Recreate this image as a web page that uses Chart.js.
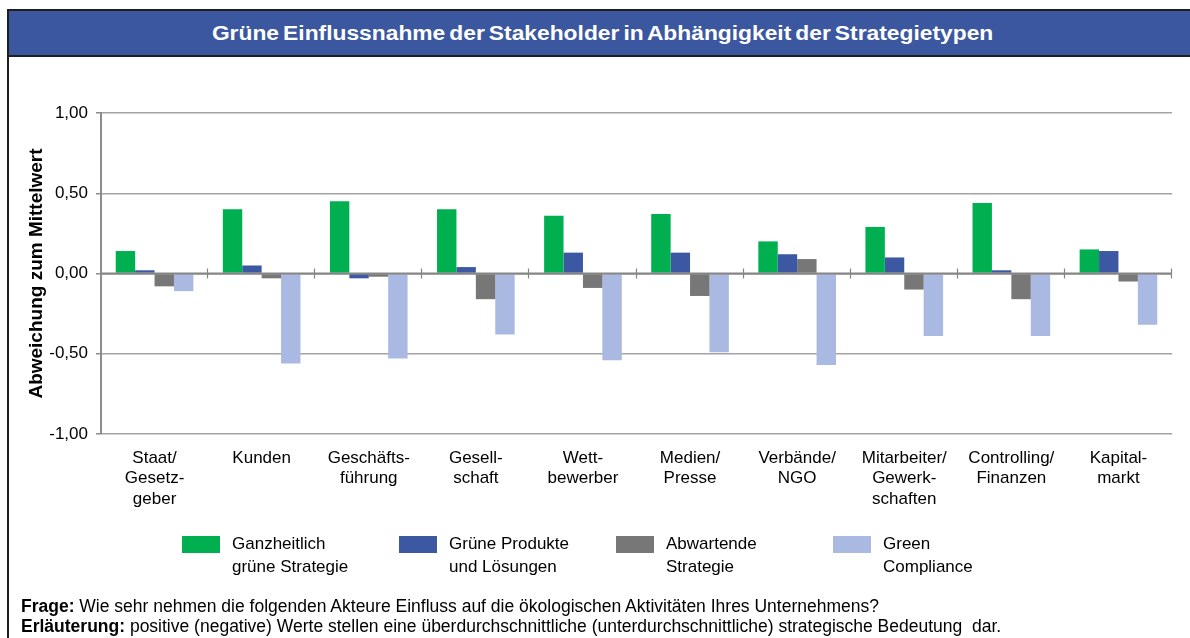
<!DOCTYPE html>
<html>
<head>
<meta charset="utf-8">
<script src="https://cdn.jsdelivr.net/npm/chart.js@4.4.1/dist/chart.umd.min.js"></script>
<style>
  html, body { margin:0; padding:0; background:#fff; width:1190px; height:638px; overflow:hidden;
    font-family:"Liberation Sans", Arial, sans-serif; }
  #frame { position:absolute; left:7px; top:9px; width:1200px; height:700px; border:2px solid #1f1f1f; box-sizing:border-box; }
  #titlebar { position:absolute; left:7px; top:9px; width:1200px; height:48px; background:#3B57A0;
    border:2px solid #1f1f1f; box-sizing:border-box; }
  #title { position:absolute; left:0; top:20px; width:1205px; text-align:center; color:#fff;
    font-weight:bold; font-size:20px; line-height:26px; word-spacing:-2px; transform:scaleX(1.14); transform-origin:602px 0; }
  #chart { position:absolute; left:0; top:0; }
  .leg { position:absolute; top:532px; }
  .sw { position:absolute; left:0; top:4px; width:38px; height:17px; }
  .lt { position:absolute; left:50px; top:0; white-space:nowrap; font-size:17px; line-height:23px; color:#000; }
  #footer { position:absolute; left:21px; top:596px; font-size:17.5px; line-height:20px; color:#000; white-space:nowrap; }
</style>
</head>
<body>
<div id="frame"></div>
<div id="titlebar"></div>
<div id="title">Grüne Einflussnahme der Stakeholder in Abhängigkeit der Strategietypen</div>
<canvas id="chart" width="1190" height="638"></canvas>
<div id="legend"></div>
<div id="footer">
  <div><b>Frage:</b> Wie sehr nehmen die folgenden Akteure Einfluss auf die ökologischen Aktivitäten Ihres Unternehmens?</div>
  <div><b>Erläuterung:</b> positive (negative) Werte stellen eine überdurchschnittliche (unterdurchschnittliche) strategische Bedeutung &nbsp;dar.</div>
</div>
<script>
// ---- data ----
const categories = [
  ["Staat/", "Gesetz-", "geber"],
  ["Kunden"],
  ["Geschäfts-", "führung"],
  ["Gesell-", "schaft"],
  ["Wett-", "bewerber"],
  ["Medien/", "Presse"],
  ["Verbände/", "NGO"],
  ["Mitarbeiter/", "Gewerk-", "schaften"],
  ["Controlling/", "Finanzen"],
  ["Kapital-", "markt"]
];
const seriesNames = [
  ["Ganzheitlich", "grüne Strategie"],
  ["Grüne Produkte", "und Lösungen"],
  ["Abwartende", "Strategie"],
  ["Green", "Compliance"]
];
const ganzheitlich   = [0.14, 0.40, 0.45, 0.40, 0.36, 0.37, 0.20, 0.29, 0.44, 0.15];
const grueneProdukte = [0.02, 0.05, -0.03, 0.04, 0.13, 0.13, 0.12, 0.10, 0.02, 0.14];
const abwartende     = [-0.08, -0.03, -0.02, -0.16, -0.09, -0.14, 0.09, -0.10, -0.16, -0.05];
const compliance     = [-0.11, -0.56, -0.53, -0.38, -0.54, -0.49, -0.57, -0.39, -0.39, -0.32];
const yTickValues = [-1, -0.5, 0, 0.5, 1];
const yTickLabels = ["-1,00", "-0,50", "0,00", "0,50", "1,00"];
const yAxisTitle = "Abweichung zum Mittelwert";

// ---- styles ----
const seriesColors = ["#00B050", "#3C58A2", "#777777", "#AAB9E1"];
const seriesValues = [ganzheitlich, grueneProdukte, abwartende, compliance];

// legend (HTML)
const legendLeft = [182, 399, 616, 833];
const legendEl = document.getElementById('legend');
seriesNames.forEach((n, i) => {
  const d = document.createElement('div');
  d.className = 'leg';
  d.style.left = legendLeft[i] + 'px';
  d.innerHTML = '<div class="sw" style="background:' + seriesColors[i] + '"></div><div class="lt">' + n.join('<br>') + '</div>';
  legendEl.appendChild(d);
});

const zeroAxisPlugin = {
  id: 'zeroAxis',
  afterDatasetsDraw(chart) {
    const {ctx, chartArea} = chart;
    const y = chart.scales.y;
    const y0 = y.getPixelForValue(0);
    ctx.save();
    ctx.strokeStyle = '#858585';
    ctx.lineWidth = 2;
    ctx.beginPath();
    ctx.moveTo(chartArea.left, y0);
    ctx.lineTo(chartArea.right, y0);
    ctx.stroke();
    ctx.lineWidth = 1.2;
    const n = categories.length;
    const w = (chartArea.right - chartArea.left) / n;
    for (let i = 1; i <= n; i++) {
      const xx = Math.round(chartArea.left + i * w) - 0.5;
      ctx.beginPath();
      ctx.moveTo(xx, y0 - 5);
      ctx.lineTo(xx, y0 + 5);
      ctx.stroke();
    }
    ctx.restore();
  }
};

new Chart(document.getElementById('chart'), {
  type: 'bar',
  data: {
    labels: categories,
    datasets: seriesNames.map((n, i) => ({
      label: n.join(' '),
      data: seriesValues[i],
      backgroundColor: seriesColors[i],
      borderWidth: 0,
      categoryPercentage: 0.725,
      barPercentage: 1.0
    }))
  },
  options: {
    responsive: false,
    animation: false,
    devicePixelRatio: 1,
    layout: { padding: { top: 113, left: 20, right: 18, bottom: 104 } },
    plugins: { legend: { display: false }, tooltip: { enabled: false }, title: { display: false } },
    scales: {
      x: {
        grid: { display: false, drawTicks: false },
        border: { display: false },
        ticks: {
          color: '#000', padding: 14, maxRotation: 0, autoSkip: false,
          font: { family: '"Liberation Sans", Arial, sans-serif', size: 17, lineHeight: 1.2 }
        },
        afterFit(s) { s.height = 100; }
      },
      y: {
        min: -1, max: 1,
        afterBuildTicks(s) { s.ticks = yTickValues.map(v => ({ value: v })); },
        ticks: {
          color: '#000', padding: 8,
          font: { family: '"Liberation Sans", Arial, sans-serif', size: 17 },
          callback: (v) => yTickLabels[yTickValues.indexOf(v)]
        },
        grid: {
          color: (c) => (c.tick && c.tick.value === 0) ? '#858585' : '#a3a3a3',
          lineWidth: 1.5,
          tickLength: 5,
          tickColor: '#8c8c8c'
        },
        border: { display: true, color: '#8c8c8c', width: 2 },
        title: {
          display: true, text: yAxisTitle, color: '#000',
          padding: { top: 5, bottom: 0 },
          font: { family: '"Liberation Sans", Arial, sans-serif', size: 19, weight: 'bold' }
        },
        afterFit(s) { s.width = 81; }
      }
    }
  },
  plugins: [zeroAxisPlugin]
});
</script>
</body>
</html>
